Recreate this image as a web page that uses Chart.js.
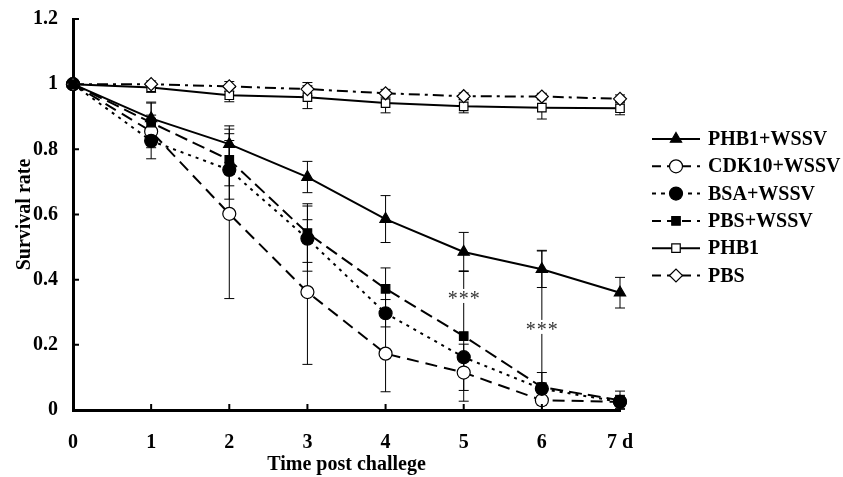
<!DOCTYPE html>
<html>
<head>
<meta charset="utf-8">
<script src="https://cdn.jsdelivr.net/npm/chart.js@4/dist/chart.umd.min.js"></script>
<style>
  html, body { margin: 0; padding: 0; background: #fff; }
  #wrap { width: 843px; height: 477px; }
</style>
</head>
<body>
<div id="wrap"><canvas id="c" width="843" height="477"></canvas></div>
<script>
// ---- data ----
const days = ['0', '1', '2', '3', '4', '5', '6', '7 d'];
const yTickLabels = ['0', '0.2', '0.4', '0.6', '0.8', '1', '1.2'];
const seriesNames = ['PHB1+WSSV', 'CDK10+WSSV', 'BSA+WSSV', 'PBS+WSSV', 'PHB1', 'PBS'];
const phb1Wssv   = [1, 0.895, 0.816, 0.715, 0.586, 0.485, 0.432, 0.36];
const cdk10Wssv  = [1, 0.855, 0.602, 0.362, 0.173, 0.115, 0.03, 0.025];
const bsaWssv    = [1, 0.826, 0.737, 0.526, 0.297, 0.162, 0.065, 0.025];
const pbsWssv    = [1, 0.882, 0.768, 0.543, 0.372, 0.227, 0.07, 0.03];
const phb1       = [1, 0.99, 0.966, 0.96, 0.942, 0.932, 0.928, 0.926];
const pbs        = [1, 1.0, 0.993, 0.985, 0.972, 0.963, 0.962, 0.955];
const phb1WssvErr  = [0, 0.05, 0.056, 0.048, 0.072, 0.06, 0.056, 0.047];
const cdk10WssvErr = [0, 0.05, 0.26, 0.222, 0.117, 0.055, 0.01, 0.01];
const bsaWssvErr   = [0, 0.055, 0.09, 0.1, 0.042, 0.04, 0.05, 0.02];
const pbsWssvErr   = [0, 0.06, 0.08, 0.09, 0.064, 0.2, 0.42, 0.028];
const phb1Err      = [0, 0.015, 0.02, 0.035, 0.03, 0.02, 0.035, 0.02];
const pbsErr       = [0, 0.01, 0.015, 0.02, 0.012, 0.01, 0.01, 0.012];
const sigMarks = [{ x: '5', y: 0.35, text: '***' }, { x: '6', y: 0.255, text: '***' }];
const yTitle = 'Survival rate';
const xTitle = 'Time post challege';

const FONT = '"Liberation Serif", "Times New Roman", serif';

const styles = [
  { dash: [], point: 'triangle', fill: '#000', r: 6.5, order: 5 },
  { dash: [12, 7], point: 'circle', fill: '#fff', r: 6.5, order: 4 },
  { dash: [3, 5], point: 'circle', fill: '#000', r: 6.5, order: 3 },
  { dash: [13, 6], point: 'rect', fill: '#000', r: 6, order: 0 },
  { dash: [], point: 'rect', fill: '#fff', r: 6, order: 2 },
  { dash: [11, 5, 3, 5], point: 'rectRot', fill: '#fff', r: 6.5, order: 1 }
];
const values = [phb1Wssv, cdk10Wssv, bsaWssv, pbsWssv, phb1, pbs];
const errors = [phb1WssvErr, cdk10WssvErr, bsaWssvErr, pbsWssvErr, phb1Err, pbsErr];

const datasets = values.map((v, i) => ({
  label: seriesNames[i],
  data: v,
  errors: errors[i],
  borderColor: '#000',
  borderWidth: 2,
  borderDash: styles[i].dash,
  pointStyle: styles[i].point,
  pointRadius: styles[i].r,
  pointBackgroundColor: styles[i].fill,
  pointBorderColor: '#000',
  pointBorderWidth: 1.2,
  tension: 0,
  clip: false,
  order: styles[i].order
}));

// error bars drawn through the scales
const errorBarPlugin = {
  id: 'errorBars',
  beforeDatasetsDraw(chart) {
    const ctx = chart.ctx;
    const xs = chart.scales.x, ys = chart.scales.y;
    ctx.save();
    ctx.strokeStyle = '#000';
    ctx.lineWidth = 1;
    chart.data.datasets.forEach(ds => {
      ds.data.forEach((v, j) => {
        const e = ds.errors[j];
        if (!e) return;
        const x = xs.getPixelForValue(j);
        const yt = ys.getPixelForValue(Math.min(v + e, 1.2));
        const yb = ys.getPixelForValue(Math.max(v - e, 0));
        ctx.beginPath();
        ctx.moveTo(x, yt); ctx.lineTo(x, yb);
        ctx.moveTo(x - 5, yt); ctx.lineTo(x + 5, yt);
        if (v - e > 0) { ctx.moveTo(x - 5, yb); ctx.lineTo(x + 5, yb); }
        ctx.stroke();
      });
    });
    ctx.restore();
  },
  afterDatasetsDraw(chart) {
    const ctx = chart.ctx;
    const xs = chart.scales.x, ys = chart.scales.y;
    ctx.save();
    // significance marks
    ctx.font = '20px ' + FONT;
    ctx.textAlign = 'center';
    ctx.textBaseline = 'middle';
    sigMarks.forEach(m => {
      const x = xs.getPixelForValue(days.indexOf(m.x));
      const y = ys.getPixelForValue(m.y);
      ctx.fillStyle = '#fff';
      ctx.fillRect(x - 18, y - 7, 36, 14);
      ctx.fillStyle = '#333';
      const chars = m.text.split('');
      chars.forEach((c, k) => {
        ctx.fillText(c, x + (k - (chars.length - 1) / 2) * 11, y + 4);
      });
    });
    // inward tick marks
    ctx.strokeStyle = '#000';
    ctx.lineWidth = 2;
    ctx.beginPath();
    xs.ticks.forEach((t, k) => {
      if (k === 0) return;
      const x = xs.getPixelForTick(k);
      ctx.moveTo(x, xs.top); ctx.lineTo(x, xs.top - 6);
    });
    ys.ticks.forEach((t, k) => {
      if (k === 0) return;
      const y = ys.getPixelForTick(k);
      ctx.moveTo(ys.right, y); ctx.lineTo(ys.right + 6, y);
    });
    ctx.stroke();
    ctx.restore();
  }
};

// custom legend (line sample + marker + label)
const legendPlugin = {
  id: 'lineLegend',
  afterDraw(chart) {
    const ctx = chart.ctx;
    const x0 = 652, lineW = 48, y0 = 139, step = 27.3;
    ctx.save();
    chart.data.datasets.forEach((ds, i) => {
      const y = y0 + i * step;
      ctx.strokeStyle = '#000';
      ctx.lineWidth = 2;
      ctx.setLineDash(ds.borderDash.length ? [9, 6] : []);
      if (ds.borderDash.length === 2 && ds.borderDash[0] < 5) ctx.setLineDash([4, 5]);
      ctx.beginPath();
      ctx.moveTo(x0, y); ctx.lineTo(x0 + lineW, y);
      ctx.stroke();
      ctx.setLineDash([]);
      ctx.fillStyle = ds.pointBackgroundColor;
      ctx.strokeStyle = '#000';
      ctx.lineWidth = 1.2;
      Chart.helpers.drawPoint(ctx, {
        pointStyle: ds.pointStyle, radius: ds.pointRadius, rotation: 0, borderWidth: 1.2
      }, x0 + lineW / 2, y);
      ctx.fillStyle = '#000';
      ctx.font = 'bold 20px ' + FONT;
      ctx.textAlign = 'left';
      ctx.textBaseline = 'middle';
      ctx.fillText(ds.label, x0 + lineW + 8, y + 1);
    });
    ctx.restore();
  }
};

new Chart(document.getElementById('c'), {
  type: 'line',
  data: { labels: days, datasets },
  plugins: [errorBarPlugin, legendPlugin],
  options: {
    responsive: false,
    animation: false,
    layout: { padding: { top: 19, right: 223, left: 0, bottom: 0 } },
    plugins: { legend: { display: false }, tooltip: { enabled: false } },
    scales: {
      x: {
        type: 'category',
        offset: false,
        grid: { display: false, drawTicks: false },
        border: { display: true, color: '#000', width: 3 },
        ticks: {
          color: '#000', font: { family: FONT, size: 20, weight: 'bold' },
          padding: 21, maxRotation: 0, autoSkip: false
        },
        title: {
          display: true, text: xTitle, color: '#000',
          font: { family: FONT, size: 20, weight: 'bold' },
          padding: { top: 0, bottom: 0 }
        },
        afterFit(s) { s.height = 67; s.paddingLeft = 0; s.paddingRight = 0; }
      },
      y: {
        min: 0, max: 1.2,
        grid: { display: false, drawTicks: false },
        border: { display: true, color: '#000', width: 3 },
        ticks: {
          stepSize: 0.2, color: '#000',
          font: { family: FONT, size: 20, weight: 'bold' },
          padding: 15,
          callback: (v, i) => yTickLabels[i]
        },
        title: {
          display: true, text: yTitle, color: '#000',
          font: { family: FONT, size: 20, weight: 'bold' },
          padding: { top: 13, bottom: 0 }
        },
        afterFit(s) { s.width = 73; s.paddingTop = 0; s.paddingBottom = 0; }
      }
    }
  }
});
</script>
</body>
</html>
